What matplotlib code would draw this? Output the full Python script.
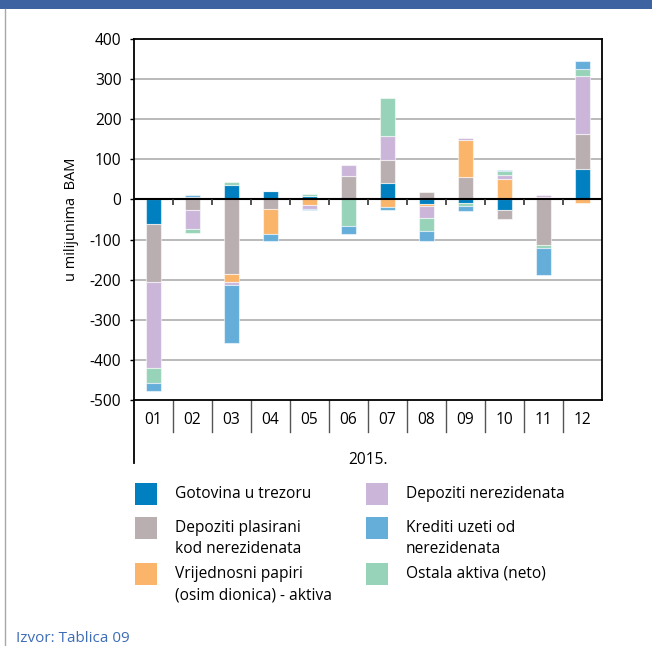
import matplotlib
matplotlib.use("Agg")
from matplotlib import pyplot as plt
from matplotlib.patches import Rectangle
from matplotlib.lines import Line2D
import numpy as np

plt.rcParams['font.family'] = ['Open Sans', 'DejaVu Sans']
plt.rcParams['axes.unicode_minus'] = False

months = ['01', '02', '03', '04', '05', '06', '07', '08', '09', '10', '11', '12']
year_label = '2015.'

gotovina = [-60, 0, 37, 20, 7.5, 0, 40, -12, -8, -27, 0, 76]
dep_plasirani = [-146, -27, -185, -23, 0, 58, 58, 19, 56, -21, -113, 87]
vrijednosni = [4, 5, -22, -62, -15, 0, -20, -3.5, 91, 51, 6.6, -9]
dep_nerezidenata = [-213, -46, -7, 0, -8, 27, 61, -30, 5, 10, 4, 146]
ostala = [-39, -10, 7, 0, 5, -66, 94, -33, -8, 9, -8, 16]
krediti = [-20, 7, -143, -18, -3.5, -21, -6.5, -26, -14, 3, -67, 21]

labels = {
    'got': 'Gotovina u trezoru',
    'dep': 'Depoziti plasirani\nkod nerezidenata',
    'vri': 'Vrijednosni papiri\n(osim dionica) - aktiva',
    'ner': 'Depoziti nerezidenata',
    'kre': 'Krediti uzeti od\nnerezidenata',
    'ost': 'Ostala aktiva (neto)',
}
colors = {
    'got': '#0080C0',
    'dep': '#BAAFB0',
    'vri': '#FBB56B',
    'ner': '#CBB6DA',
    'kre': '#65AEDA',
    'ost': '#96D3B9',
}

# stacking order in the bars
stack = [('got', gotovina), ('dep', dep_plasirani), ('vri', vrijednosni),
         ('ner', dep_nerezidenata), ('ost', ostala), ('kre', krediti)]

W, H = 652, 646
fig = plt.figure(figsize=(W / 100, H / 100), dpi=100)


def fx(px):
    return px / W


def fy(py):
    return 1 - py / H


# page decoration
fig.add_artist(Rectangle((0, fy(9)), 1, 9 / H, transform=fig.transFigure,
                         color='#3D63A0', lw=0))
fig.add_artist(Line2D([fx(5), fx(5)], [fy(9), 0], transform=fig.transFigure,
                      color='#A8A8A8', lw=1))

ax = fig.add_axes([fx(134), fy(400), fx(602) - fx(134), fy(39) - fy(400)])

x = np.arange(len(months))
pos_bottom = np.zeros(len(months))
neg_bottom = np.zeros(len(months))
for key, vals in stack:
    vals = np.array(vals, dtype=float)
    bottom = np.where(vals >= 0, pos_bottom, neg_bottom)
    ax.bar(x, vals, width=0.41, bottom=bottom, color=colors[key],
           edgecolor=(1, 1, 1, 0.55), linewidth=0.8, zorder=3)
    pos_bottom += np.where(vals >= 0, vals, 0)
    neg_bottom += np.where(vals < 0, vals, 0)

ax.set_xlim(-0.5, len(months) - 0.5)
ax.set_ylim(-500, 400)
ax.set_yticks(range(-500, 401, 100))
ax.tick_params(axis='y', labelsize=11.2, length=3, width=1, pad=6)
ax.set_xticks([])
for yv in range(-400, 400, 100):
    if yv != 0:
        ax.axhline(yv, color='#B4B4B4', lw=1.3, zorder=1)
ax.axhline(0, color='black', lw=1.5, zorder=4)
ax.vlines(x[:-1] + 0.5, -14, 0, color='#333333', lw=1.2, zorder=4)
for s in ax.spines.values():
    s.set_linewidth(1.3)
ax.set_ylabel('u milijunima  BAM', fontsize=10.5, labelpad=8)

# category table below the axis
trans = ax.get_xaxis_transform()
for b in x[:-1] + 0.5:
    ax.plot([b, b], [0, -32 / 361], transform=trans, color='#555555',
            lw=1, clip_on=False)
ax.plot([-0.5, -0.5], [0, -63 / 361], transform=trans, color='black',
        lw=1.3, clip_on=False)
for xi, m in zip(x, months):
    ax.text(xi, -20.5 / 361, m, transform=trans, ha='center', va='center',
            fontsize=11.2)
ax.text(0.5, -60 / 361, year_label, transform=ax.transAxes, ha='center',
        va='center', fontsize=11.2)

# legend
legend_layout = [('got', 135, 483), ('dep', 135, 517), ('vri', 135, 563),
                 ('ner', 366, 483), ('kre', 366, 517), ('ost', 366, 563)]
for key, px, py in legend_layout:
    fig.add_artist(Rectangle((fx(px), fy(py + 22)), 22 / W, 22 / H,
                             transform=fig.transFigure, color=colors[key], lw=0))
    tx = 175 if px < 300 else 406
    fig.text(fx(tx), fy(py + 11), labels[key].split('\n')[0], ha='left',
             va='center', fontsize=11.2)
    if '\n' in labels[key]:
        fig.text(fx(tx), fy(py + 32), labels[key].split('\n')[1], ha='left',
                 va='center', fontsize=11.2)

fig.text(fx(16), fy(631), 'Izvor: Tablica 09', ha='left', va='top',
         fontsize=11, color='#3D6DB5')

fig.savefig('out.png', dpi=100)
